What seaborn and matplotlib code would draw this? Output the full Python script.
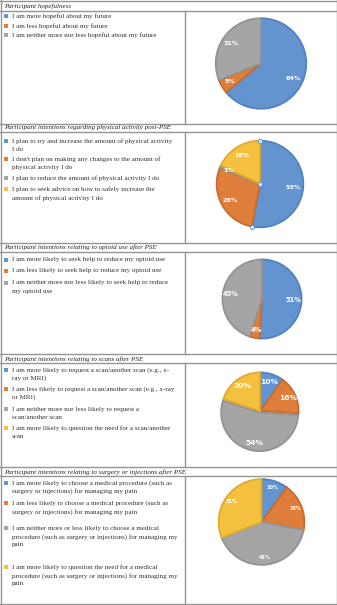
import numpy as np
import matplotlib
matplotlib.use('Agg')
import matplotlib.pyplot as plt
import seaborn as sns

sns.set_theme(style='white')
plt.rcParams['font.family'] = ['Liberation Serif', 'DejaVu Serif']

# ---- data ----
titles = [
    'Participant hopefulness',
    'Participant intentions regarding physical activity post-PSE',
    'Participant intentions relating to opioid use after PSE',
    'Participant intentions relating to scans after PSE',
    'Participant intentions relating to surgery or injections after PSE',
]

labels_hope = [
    'I am more hopeful about my future',
    'I am less hopeful about my future',
    'I am neither more nor less hopeful about my future',
]
values_hope = [64, 5, 31]

labels_activity = [
    'I plan to try and increase the amount of physical activity\nI do',
    "I don't plan on making any changes to the amount of\nphysical activity I do",
    'I plan to reduce the amount of physical activity I do',
    'I plan to seek advice on how to safely increase the\namount of physical activity I do',
]
values_activity = [53, 28, 1, 18]

labels_opioid = [
    'I am more likely to seek help to reduce my opioid use',
    'I am less likely to seek help to reduce my opioid use',
    'I am neither more nor less likely to seek help to reduce\nmy opioid use',
]
values_opioid = [51, 4, 45]

labels_scan = [
    'I am more likely to request a scan/another scan (e.g., x-\nray or MRI)',
    'I am less likely to request a scan/another scan (e.g., x-ray\nor MRI)',
    'I am neither more nor less likely to request a\nscan/another scan',
    'I am more likely to question the need for a scan/another\nscan',
]
values_scan = [10, 16, 54, 20]

labels_surgery = [
    'I am more likely to choose a medical procedure (such as\nsurgery or injections) for managing my pain',
    'I am less likely to choose a medical procedure (such as\nsurgery or injections) for managing my pain',
    'I am neither more or less likely to choose a medical\nprocedure (such as surgery or injections) for managing my\npain',
    'I am more likely to question the need for a medical\nprocedure (such as surgery or injections) for managing my\npain',
]
values_surgery = [10, 18, 41, 31]

panel_labels = [labels_hope, labels_activity, labels_opioid, labels_scan, labels_surgery]
panel_values = [values_hope, values_activity, values_opioid, values_scan, values_surgery]

# ---- style / layout (pixels) ----
W, H = 337, 605
colors = ['#6394d0', '#df7d3a', '#a5a5a5', '#f5c03e']
edges = ['#5282c0', '#c96b2c', '#929292', '#e0ab2e']
line_col = '#959595'
divider_x = 185
# (title row top, title row bottom, content bottom)
rows = [(0, 11, 123.5), (123.5, 131.7, 242.7), (242.7, 251.7, 354),
        (354, 363.3, 467.3), (467.3, 475.7, 604)]
item_y = [[15.7, 25.7, 35], [140.7, 159.3, 178.3, 189.3], [260, 270.7, 282.7],
          [370, 389.3, 409.3, 428.3], [482.7, 503.3, 528.3, 567.3]]
line_h = [9, 8.7, 9, 8, 8.3]
pie_geo = [(261, 63.5, 47.5), (260, 184, 45.5), (262, 299, 41.5),
           (260, 411, 40.5), (261.5, 522, 45)]
pct_size = [4.6, 4.6, 4.8, 5.4, 3.6]
pct_dist = [0.8, 0.78, 0.8, 0.8, 0.84]
explodes = [None, None, None, [0, 0, 0.04, 0], None]

fig = plt.figure(figsize=(W / 100, H / 100), dpi=100)
fig.patch.set_facecolor('white')
bg = fig.add_axes([0, 0, 1, 1])
bg.set_xlim(0, W)
bg.set_ylim(H, 0)
bg.axis('off')

# table frame
lw = 1.0
bg.plot([0.5, 0.5], [0, 604], color=line_col, lw=lw)
bg.plot([336.5, 336.5], [0, 604], color=line_col, lw=lw)
bg.plot([0, W], [0.5, 0.5], color=line_col, lw=lw)
for top, tbot, cbot in rows:
    bg.plot([0, W], [tbot, tbot], color=line_col, lw=lw)
    bg.plot([0, W], [cbot, cbot], color=line_col, lw=lw)
    bg.plot([divider_x, divider_x], [tbot, cbot], color=line_col, lw=lw)

for i, (title, labs, vals) in enumerate(zip(titles, panel_labels, panel_values)):
    top, tbot, cbot = rows[i]
    bg.text(4, (top + tbot) / 2 + 0.3, title, fontsize=5.0, style='italic',
            va='center', ha='left', color='#222222')
    for j, lab in enumerate(labs):
        y0 = item_y[i][j]
        bg.scatter([5.5], [y0], marker='s', s=5.0, color=colors[j], linewidths=0)
        for k, ln in enumerate(lab.split('\n')):
            bg.text(12, y0 + k * line_h[i], ln, fontsize=5.1, va='center',
                    ha='left', color='#333333')

    cx, cy, r = pie_geo[i]
    ax = fig.add_axes([(cx - r) / W, 1 - (cy + r) / H, 2 * r / W, 2 * r / H])
    wedges, _, autotexts = ax.pie(
        vals, colors=colors[:len(vals)], startangle=90, counterclock=False,
        autopct='%.0f%%', pctdistance=pct_dist[i], explode=explodes[i],
        wedgeprops=dict(linewidth=1.3, edgecolor='white'),
        textprops=dict(color='white', fontsize=pct_size[i], fontweight='bold',
                       family=['DejaVu Sans']))
    for w, ec in zip(wedges, edges):
        w.set_edgecolor(ec)
    ax.set_xlim(-1.05, 1.05)
    ax.set_ylim(-1.05, 1.05)
    ax.set_aspect('equal')
    ax.axis('off')

    if i == 1:
        # selection handles on the first wedge, computed from its angle span
        end = np.deg2rad(90 - 360 * vals[0] / sum(vals))
        hx = [0, 0, np.cos(end)]
        hy = [0, 1, np.sin(end)]
        ax.scatter(hx, hy, s=9, facecolor='#dfeaf7', edgecolor='#5b9bd5',
                   linewidths=0.7, zorder=5, clip_on=False)

fig.savefig('out.png', dpi=100, facecolor='white')
